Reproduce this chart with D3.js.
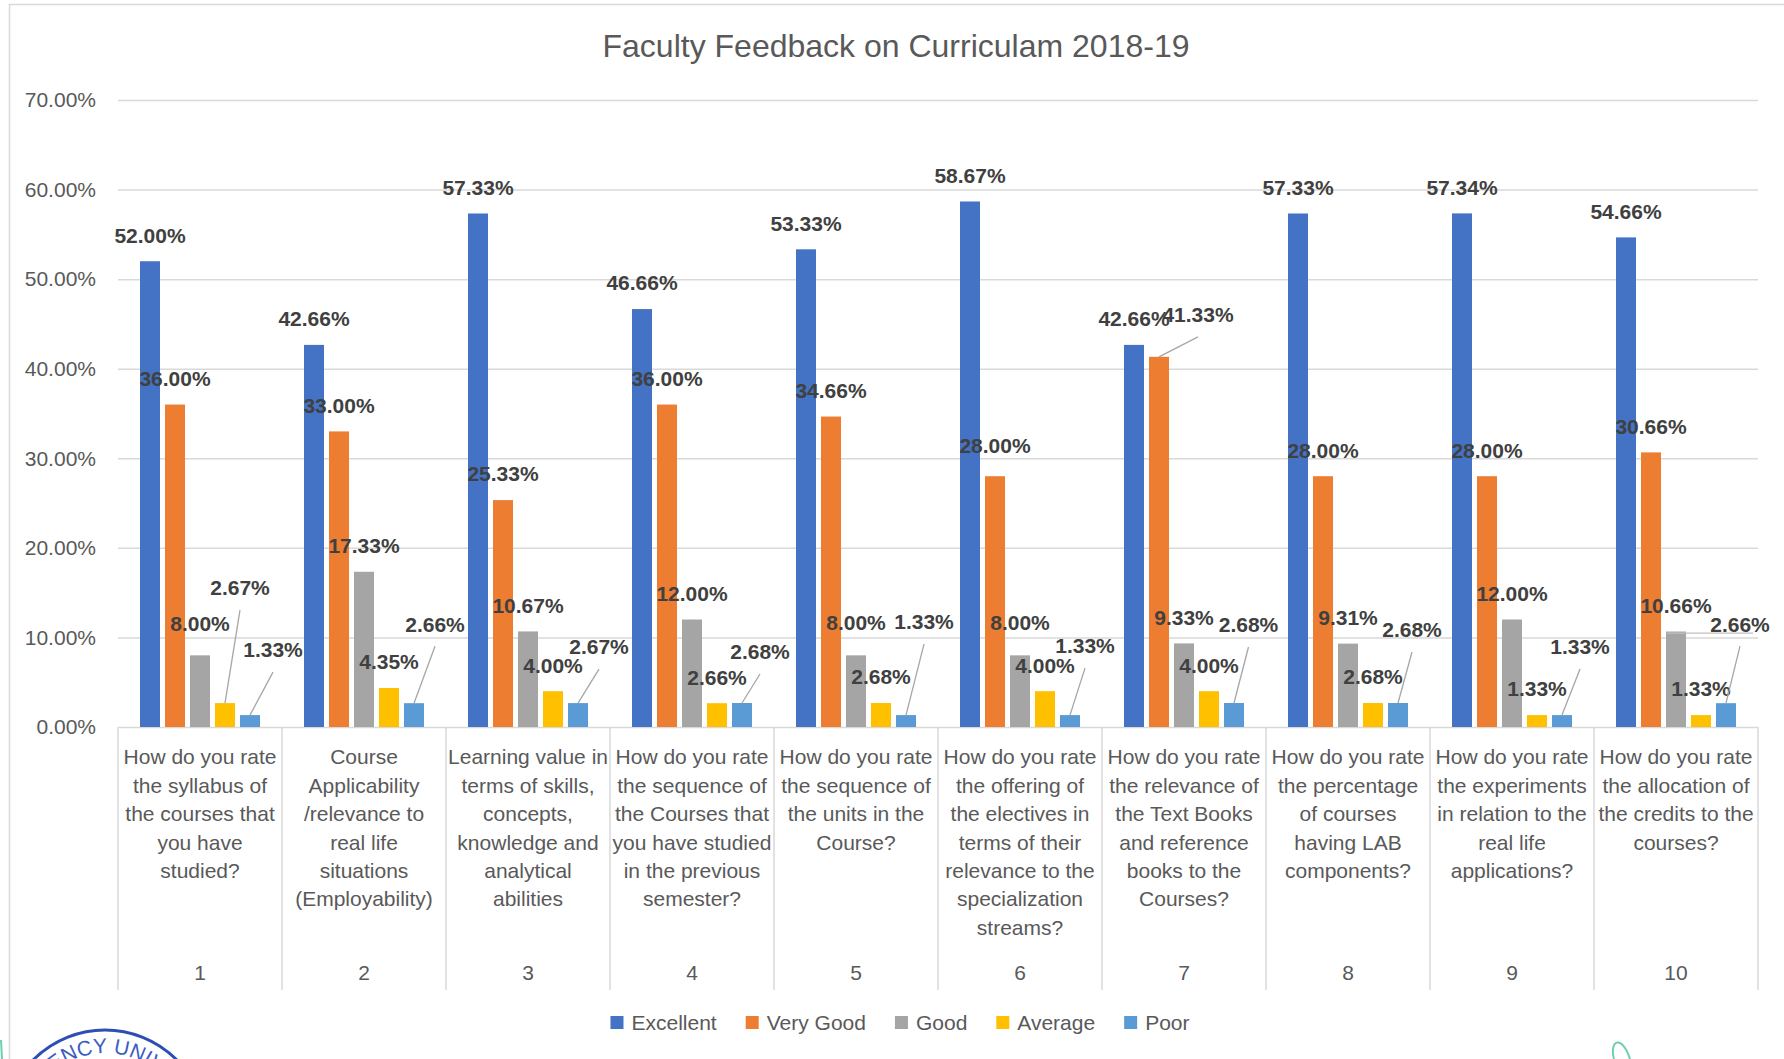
<!DOCTYPE html>
<html>
<head>
<meta charset="utf-8">
<script src="https://cdn.jsdelivr.net/npm/d3@7"></script>
<style>
  body { margin: 0; background: #fff; }
  svg { display: block; font-family: "Liberation Sans", Arial, sans-serif; }
</style>
</head>
<body>
<div class="dgraph"></div>
<script>
// chart data
var questions = [
  ["How do you rate", "the syllabus of", "the courses that", "you have", "studied?"],
  ["Course", "Applicability", "/relevance to", "real life", "situations", "(Employability)"],
  ["Learning value in", "terms of skills,", "concepts,", "knowledge and", "analytical", "abilities"],
  ["How do you rate", "the sequence of", "the Courses that", "you have studied", "in the previous", "semester?"],
  ["How do you rate", "the sequence of", "the units in the", "Course?"],
  ["How do you rate", "the offering of", "the electives in", "terms of their", "relevance to the", "specialization", "streams?"],
  ["How do you rate", "the relevance of", "the Text Books", "and reference", "books to the", "Courses?"],
  ["How do you rate", "the percentage", "of courses", "having LAB", "components?"],
  ["How do you rate", "the experiments", "in relation to the", "real life", "applications?"],
  ["How do you rate", "the allocation of", "the credits to the", "courses?"]
];
var questionNo = ["1", "2", "3", "4", "5", "6", "7", "8", "9", "10"];
var seriesNames = ["Excellent", "Very Good", "Good", "Average", "Poor"];
var excellent = [52.00, 42.66, 57.33, 46.66, 53.33, 58.67, 42.66, 57.33, 57.34, 54.66];
var veryGood  = [36.00, 33.00, 25.33, 36.00, 34.66, 28.00, 41.33, 28.00, 28.00, 30.66];
var good      = [8.00, 17.33, 10.67, 12.00, 8.00, 8.00, 9.33, 9.31, 12.00, 10.66];
var average   = [2.67, 4.35, 4.00, 2.66, 2.68, 4.00, 4.00, 2.68, 1.33, 1.33];
var poor      = [1.33, 2.66, 2.67, 2.68, 1.33, 1.33, 2.68, 2.68, 1.33, 2.66];
var yTicks = [0, 10, 20, 30, 40, 50, 60, 70];

var seriesValues = [excellent, veryGood, good, average, poor];
var colors = ["#4472C4", "#ED7D31", "#A5A5A5", "#FFC000", "#5B9BD5"];

// labels that were dragged away from the bar (dx, dy from bar top centre)
// third item = leader line wanted, fourth = shelf line length
var labelMoves = {
  "2-0": [0, -32], "2-4": [0, -33], "2-5": [0, -33], "1-5": [0, -31],
  "3-0": [15, -115, 1],
  "1-6": [39, -42, 1],
  "4-0": [23, -65, 1], "4-1": [21, -79, 1], "4-2": [21, -56, 1], "4-3": [18, -51, 1], "4-4": [18, -93, 1],
  "4-5": [15, -69, 1], "4-6": [14.5, -78, 1], "4-7": [14, -73, 1], "4-8": [18, -68, 1], "4-9": [14, -79, 1, 73]
};

var width = 1784, height = 1059;
var plotL = 118, plotR = 1758, plotT = 100, plotB = 727;

var svg = d3.select("body .dgraph").append("svg")
  .attr("width", width).attr("height", height);

// chart frame
svg.append("rect").attr("x", 9.5).attr("y", 4.5).attr("width", 1800).attr("height", 1100)
  .attr("fill", "none").attr("stroke", "#d9d9d9").attr("stroke-width", 1.5);

var x0 = d3.scaleBand().domain(questionNo).range([plotL, plotR]);
var x1 = d3.scaleBand().domain(seriesNames).range([0, x0.bandwidth()])
  .paddingInner(0.2).paddingOuter(0.88);
var y = d3.scaleLinear().domain([0, 70]).range([plotB, plotT]);

// title
svg.append("text").attr("x", 896).attr("y", 57).attr("text-anchor", "middle")
  .attr("font-size", 32).attr("fill", "#595959")
  .text("Faculty Feedback on Curriculam 2018-19");

// y axis with gridlines
var yAxis = d3.axisLeft(y).tickValues(yTicks)
  .tickFormat(function(d){ return d.toFixed(2) + "%"; })
  .tickSize(-(plotR - plotL)).tickPadding(22);
var ga = svg.append("g").attr("transform", "translate(" + plotL + ",0)").call(yAxis);
ga.select(".domain").remove();
ga.selectAll("line").attr("stroke", "#d9d9d9").attr("stroke-width", 1.5);
ga.selectAll("text").attr("font-size", 21).attr("fill", "#595959")
  .attr("font-family", "Liberation Sans, Arial, sans-serif");

// category separators
var bounds = questionNo.map(function(q){ return x0(q); }).concat([plotR]);
svg.selectAll("line.sep").data(bounds).enter().append("line")
  .attr("class", "sep")
  .attr("x1", function(d){ return d; }).attr("x2", function(d){ return d; })
  .attr("y1", plotB).attr("y2", 990)
  .attr("stroke", "#d9d9d9").attr("stroke-width", 1.5);

// category labels
var cat = svg.selectAll("g.cat").data(questions).enter().append("g")
  .attr("class", "cat")
  .attr("transform", function(d, i){
    return "translate(" + (x0(questionNo[i]) + x0.bandwidth() / 2) + ",0)";
  });
cat.each(function(lines){
  var g = d3.select(this);
  lines.forEach(function(t, j){
    g.append("text").attr("y", 757 + j * 28.4).attr("dy", "0.35em")
      .attr("text-anchor", "middle").attr("font-size", 21).attr("fill", "#595959")
      .text(t);
  });
});
cat.append("text").attr("y", 973).attr("dy", "0.35em").attr("text-anchor", "middle")
  .attr("font-size", 21).attr("fill", "#595959")
  .text(function(d, i){ return questionNo[i]; });

// bars
var cells = [];
seriesValues.forEach(function(vals, s){
  vals.forEach(function(v, i){
    cells.push({s: s, i: i, v: v});
  });
});

svg.append("g").selectAll("rect").data(cells).enter().append("rect")
  .attr("x", function(d){ return x0(questionNo[d.i]) + x1(seriesNames[d.s]); })
  .attr("y", function(d){ return y(d.v); })
  .attr("width", x1.bandwidth())
  .attr("height", function(d){ return plotB - y(d.v); })
  .attr("fill", function(d){ return colors[d.s]; });

// data labels
var lab = svg.append("g");
cells.forEach(function(d){
  var cx = x0(questionNo[d.i]) + x1(seriesNames[d.s]) + x1.bandwidth() / 2;
  var ty = y(d.v);
  var mv = labelMoves[d.s + "-" + d.i];
  var lx = cx, ly = ty - 26;
  if (mv) {
    lx = cx + mv[0]; ly = ty + mv[1];
    if (mv[2]) {
      lab.append("line").attr("x1", lx).attr("y1", ly + 22).attr("x2", cx).attr("y2", ty)
        .attr("stroke", "#a6a6a6").attr("stroke-width", 1.3);
    }
    if (mv[3]) {
      lab.append("line").attr("x1", lx - mv[3]).attr("x2", lx + 13)
        .attr("y1", ly + 9).attr("y2", ly + 9)
        .attr("stroke", "#bfbfbf").attr("stroke-width", 1.3);
    }
  }
  lab.append("text").attr("x", lx).attr("y", ly).attr("dy", "0.35em")
    .attr("text-anchor", "middle").attr("font-size", 21).attr("font-weight", "bold")
    .attr("fill", "#404040")
    .text(d.v.toFixed(2) + "%");
});

// legend
var leg = svg.append("g");
var legX = 0;
seriesNames.forEach(function(name, s){
  var it = leg.append("g").attr("transform", "translate(" + legX + ",0)");
  it.append("rect").attr("x", 0).attr("y", -7).attr("width", 13).attr("height", 13)
    .attr("fill", colors[s]);
  var t = it.append("text").attr("x", 21).attr("y", 0).attr("dy", "0.35em")
    .attr("font-size", 21).attr("fill", "#595959").text(name);
  legX += 21 + t.node().getComputedTextLength() + 29;
});
leg.attr("transform", "translate(" + (900 - (legX - 29) / 2) + ",1023)");

// stamp and pen marks peeking in at the bottom of the scan
var stamp = svg.append("g");
stamp.append("circle").attr("cx", 105).attr("cy", 1131).attr("r", 101)
  .attr("fill", "none").attr("stroke", "#2d4fb4").attr("stroke-width", 3);
stamp.append("path").attr("id", "stampArc").attr("fill", "none")
  .attr("d", "M27,1131 A78,78 0 0 1 183,1131");
stamp.append("text").attr("font-size", 21).attr("fill", "#3a5cc4")
  .append("textPath").attr("href", "#stampArc").attr("startOffset", "50%")
  .attr("text-anchor", "middle").text("PRESIDENCY UNIVERSITY");
svg.append("path").attr("d", "M1614,1059 C1609,1040 1622,1034 1630,1059")
  .attr("fill", "none").attr("stroke", "#6fcfb0").attr("stroke-width", 2);
svg.append("path").attr("d", "M1,1040 L2,1059")
  .attr("fill", "none").attr("stroke", "#6fcfb0").attr("stroke-width", 2);
</script>
</body>
</html>
